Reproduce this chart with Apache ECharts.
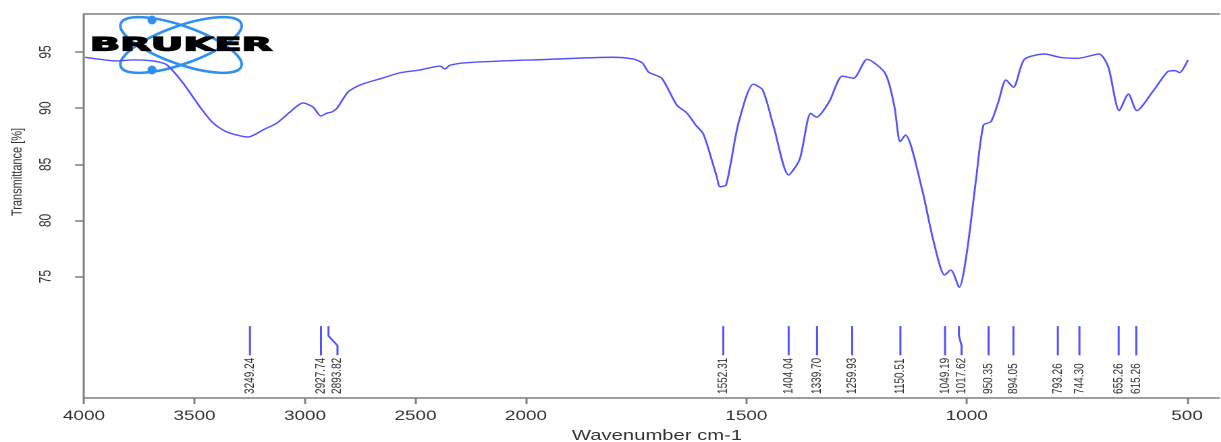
<!DOCTYPE html>
<html><head><meta charset="utf-8">
<script src="https://cdn.jsdelivr.net/npm/echarts@6/dist/echarts.min.js"></script>
<style>
html,body{margin:0;padding:0;background:#fff;overflow:hidden;}
#wrap{width:1221px;height:442px;overflow:hidden;position:relative;background:#fff;}
#chart{position:absolute;left:0;top:0;height:442px;transform-origin:0 0;}
</style></head><body>
<div id="wrap"><div id="chart"></div></div>
<script>
// ---- data ----
const wavenumber = [3995,3928,3851,3778,3701,3656,3624,3552,3475,3416,3353,3258,3190,3127,3068,3009,2964,2928,2900,2878,2855,2805,2751,2647,2570,2480,2389,2367,2344,2267,2000,1984,1803,1757,1741,1735,1723,1717,1692,1658,1635,1615,1599,1590,1567,1560,1546,1518,1484,1463,1438,1404,1379,1354,1341,1312,1282,1257,1226,1185,1164,1151,1139,1101,1076,1050,1036,1017,1000,979,962,945,928,911,894,869,823,789,747,700,679,654,633,614,578,544,527,517,498];
const transmittance = [94.53,94.35,94.2,94.29,94.23,94.08,93.84,92.24,90.1,88.68,87.88,87.43,88.06,88.68,89.66,90.46,90.1,89.3,89.57,89.66,90.0,91.44,92.06,92.69,93.15,93.4,93.75,93.49,93.82,94.05,94.28,94.29,94.53,94.38,94.14,93.99,93.25,93.1,92.66,90.28,89.57,88.5,87.79,86.87,83.87,83.01,83.16,88.65,92.13,91.62,88.35,84.05,85.45,89.54,89.19,90.58,92.86,92.66,94.35,93.1,90.13,87.02,87.61,82.72,78.27,75.15,75.6,74.06,77.08,83.61,88.5,88.8,90.58,92.51,91.86,94.35,94.82,94.53,94.44,94.82,93.69,89.78,91.26,89.78,91.47,93.25,93.34,93.16,94.29];
const peakPositions = [3249.24,2927.74,2893.82,1552.31,1404.04,1339.70,1259.93,1150.51,1049.19,1017.62,950.35,894.05,793.26,744.30,655.26,615.26];
const xTicksHigh = [4000,3500,3000,2500,2000];
const xTicksLow = [1500,1000,500];
const yTicks = [75,80,85,90,95];
const xTitle = 'Wavenumber cm-1';
const yTitle = 'Transmittance [%]';
const logoText = 'BRUKER';

// ---- layout (reference pixels) ----
const K = 1.35;                 // horizontal stretch of the reference
const U = v => v / K;
const W = 1221 / K;
const PLOT_LEFT = 84, BREAK_X = 526, PLOT_RIGHT = 1221, TOP = 14, AXIS_Y = 398;
const BREAK_WN = 2000, HIGH_MAX = 4000, LOW_MIN = 423;
const Y_MIN = 64.2, Y_MAX = 98.38;
const MARK_TOP = 70.6, MARK_BOTTOM = 68.0, LABEL_BASE = 64.56;
const MIN_GAP = U(16.5);

const el = document.getElementById('chart');
el.style.width = W + 'px';
el.style.transform = 'scaleX(' + K + ')';
const chart = echarts.init(el, null, {renderer: 'canvas', devicePixelRatio: 2});

const hi = [], lo = [];
wavenumber.forEach((w, i) => {
  if (w >= BREAK_WN) hi.push([w, transmittance[i]]);
  if (w <= BREAK_WN) lo.push([w, transmittance[i]]);
});
const peaksHi = peakPositions.filter(p => p >= BREAK_WN);
const peaksLo = peakPositions.filter(p => p < BREAK_WN);

const AXIS_COLOR = '#808080';
const TEXT_COLOR = '#333333';
const LINE_COLOR = '#5252ff';
const FONT = 'Liberation Sans, Arial, sans-serif';
const plain = v => String(v);

function peakRenderer(list) {
  return function (params, api) {
    const i = params.dataIndex;
    let prev = -Infinity, px = 0, lx = 0;
    for (let j = 0; j <= i; j++) {
      const p = api.coord([list[j], MARK_TOP])[0];
      const l = Math.max(p, prev + MIN_GAP);
      prev = l;
      if (j === i) { px = p; lx = l; }
    }
    const yTop = api.coord([list[i], MARK_TOP])[1];
    const yBot = api.coord([list[i], MARK_BOTTOM])[1];
    const yLab = api.coord([list[i], LABEL_BASE])[1];
    const h = yBot - yTop;
    const pts = [[px, yTop], [px, yTop + h / 3], [lx, yTop + 2 * h / 3], [lx, yBot]];
    return {
      type: 'group',
      children: [
        {type: 'polyline', shape: {points: pts}, style: {stroke: LINE_COLOR, lineWidth: 1.5, fill: null}},
        {type: 'text', x: lx, y: yLab, rotation: Math.PI / 2,
         style: {text: list[i].toFixed(2), fontSize: 10, fontFamily: FONT, fill: TEXT_COLOR,
                 align: 'left', verticalAlign: 'middle'}}
      ]
    };
  };
}

function xAxisBase(gridIndex, min, max) {
  return {
    type: 'value', gridIndex, min, max, inverse: true,
    axisLine: {show: true, onZero: false, lineStyle: {color: AXIS_COLOR, width: 1.5}},
    splitLine: {show: false}
  };
}

const option = {
  backgroundColor: '#ffffff',
  animation: false,
  grid: [
    {left: U(PLOT_LEFT), width: U(BREAK_X - PLOT_LEFT), top: TOP, height: AXIS_Y - TOP, outerBoundsMode: 'none', containLabel: false},
    {left: U(BREAK_X), width: U(PLOT_RIGHT - BREAK_X), top: TOP, height: AXIS_Y - TOP, outerBoundsMode: 'none', containLabel: false}
  ],
  xAxis: [
    Object.assign(xAxisBase(0, BREAK_WN, HIGH_MAX), {
      position: 'bottom',
      axisTick: {show: true, length: 6, customValues: xTicksHigh, lineStyle: {color: AXIS_COLOR, width: 1.5}},
      axisLabel: {show: true, customValues: xTicksHigh, formatter: plain, margin: 11, fontSize: 14, fontFamily: FONT, color: TEXT_COLOR}
    }),
    Object.assign(xAxisBase(1, LOW_MIN, BREAK_WN), {
      position: 'bottom',
      axisTick: {show: true, length: 6, customValues: xTicksLow, lineStyle: {color: AXIS_COLOR, width: 1.5}},
      axisLabel: {show: true, customValues: xTicksLow, formatter: plain, margin: 11, fontSize: 14, fontFamily: FONT, color: TEXT_COLOR}
    }),
    Object.assign(xAxisBase(0, BREAK_WN, HIGH_MAX), {position: 'top', axisTick: {show: false}, axisLabel: {show: false}}),
    Object.assign(xAxisBase(1, LOW_MIN, BREAK_WN), {position: 'top', axisTick: {show: false}, axisLabel: {show: false}})
  ],
  yAxis: [
    {
      type: 'value', gridIndex: 0, min: Y_MIN, max: Y_MAX, position: 'left',
      axisLine: {show: true, onZero: false, lineStyle: {color: AXIS_COLOR, width: 1.5}},
      axisTick: {show: true, length: U(9), customValues: yTicks, lineStyle: {color: AXIS_COLOR, width: 1.5}},
      axisLabel: {show: true, customValues: yTicks, formatter: plain, rotate: 90, margin: U(30), fontSize: 12, fontFamily: FONT, color: TEXT_COLOR},
      splitLine: {show: false}
    },
    {type: 'value', gridIndex: 1, min: Y_MIN, max: Y_MAX, show: false, splitLine: {show: false}}
  ],
  series: [
    {type: 'line', xAxisIndex: 0, yAxisIndex: 0, data: hi, showSymbol: false, smooth: 0.25,
     lineStyle: {color: LINE_COLOR, width: 1.4}, z: 3},
    {type: 'line', xAxisIndex: 1, yAxisIndex: 1, data: lo, showSymbol: false, smooth: 0.25,
     lineStyle: {color: LINE_COLOR, width: 1.4}, z: 3},
    {type: 'custom', xAxisIndex: 0, yAxisIndex: 0, data: peaksHi.map(p => [p, MARK_TOP]),
     encode: {x: 0, y: 1}, renderItem: peakRenderer(peaksHi), z: 3},
    {type: 'custom', xAxisIndex: 1, yAxisIndex: 1, data: peaksLo.map(p => [p, MARK_TOP]),
     encode: {x: 0, y: 1}, renderItem: peakRenderer(peaksLo), z: 3}
  ],
  graphic: [
    {type: 'text', x: U(17.5), y: 172, rotation: Math.PI / 2,
     style: {text: yTitle, fontSize: 11, fontFamily: FONT, fill: TEXT_COLOR, align: 'center', verticalAlign: 'middle'}},
    {type: 'text', x: U(657), y: 436,
     style: {text: xTitle, fontSize: 15, fontFamily: FONT, fill: TEXT_COLOR, align: 'center', verticalAlign: 'middle'}},
    {type: 'group', x: 0, y: 0, scaleX: 1 / K, z: 1, children: [
      {type: 'ellipse', shape: {cx: 181, cy: 45, rx: 64, ry: 19}, originX: 181, originY: 45, rotation: 0.34,
       style: {fill: null, stroke: '#2f8ff2', lineWidth: 2.6}},
      {type: 'ellipse', shape: {cx: 181, cy: 45, rx: 64, ry: 19}, originX: 181, originY: 45, rotation: -0.34,
       style: {fill: null, stroke: '#2f8ff2', lineWidth: 2.6}},
      {type: 'circle', shape: {cx: 152, cy: 20, r: 4.5}, style: {fill: '#2f8ff2'}},
      {type: 'circle', shape: {cx: 152, cy: 70, r: 4.5}, style: {fill: '#2f8ff2'}},
      {type: 'text', x: 181, y: 45.5, scaleX: 2.1, originX: 0, originY: 0,
       style: {text: logoText, fontSize: 19, fontWeight: 'bold', fontFamily: 'DejaVu Sans', fill: '#000',
               stroke: '#000', lineWidth: 1.2, align: 'center', verticalAlign: 'middle'}}
    ]}
  ]
};
chart.setOption(option);
</script>
</body></html>
